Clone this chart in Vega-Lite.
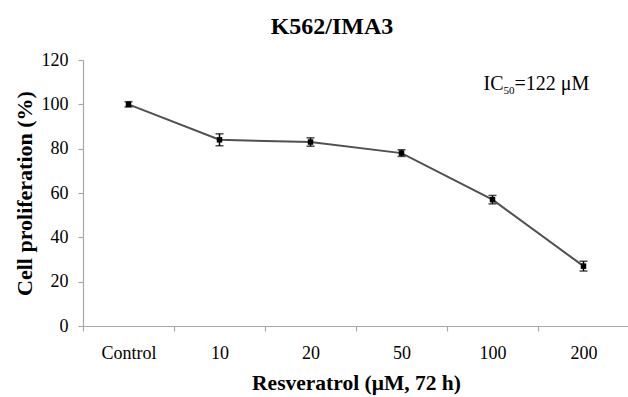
{
  "$schema": "https://vega.github.io/schema/vega-lite/v6.json",
  "autosize": "none",
  "width": 546,
  "height": 266,
  "padding": {"left": 83, "top": 60, "right": 0, "bottom": 71},
  "background": "white",
  "config": {
    "view": {"stroke": null},
    "font": "Liberation Serif",
    "axis": {
      "labelFont": "Liberation Serif",
      "titleFont": "Liberation Serif",
      "labelColor": "black",
      "titleColor": "black",
      "domainColor": "#a8a8a8",
      "tickColor": "#a8a8a8",
      "domainWidth": 1.2,
      "tickWidth": 1.2,
      "grid": false
    }
  },
  "title": {
    "text": "K562/IMA3",
    "font": "Liberation Serif",
    "fontSize": 24,
    "fontWeight": "bold",
    "color": "black",
    "baseline": "alphabetic",
    "offset": -7,
    "dx": -24
  },
  "data": {
    "values": [
      {"dose": "Control", "mean": 100, "err": 1.2},
      {"dose": "10", "mean": 84, "err": 2.7},
      {"dose": "20", "mean": 83, "err": 1.9},
      {"dose": "50", "mean": 78, "err": 1.5},
      {"dose": "100", "mean": 57, "err": 1.9},
      {"dose": "200", "mean": 27, "err": 2.2}
    ]
  },
  "encoding": {
    "x": {
      "field": "dose",
      "type": "nominal",
      "sort": null,
      "scale": {"paddingInner": 0, "paddingOuter": 0},
      "axis": {
        "title": "Resveratrol (μM, 72 h)",
        "titleFontSize": 21.5,
        "titleFontWeight": "bold",
        "titlePadding": 10,
        "labelFontSize": 18,
        "labelAngle": 0,
        "labelPadding": 13,
        "tickBand": "extent",
        "tickSize": 5
      }
    },
    "y": {
      "field": "mean",
      "type": "quantitative",
      "scale": {"domain": [0, 120], "nice": false},
      "axis": {
        "title": "Cell  proliferation  (%)",
        "titleFontSize": 22,
        "titleFontWeight": "bold",
        "titlePadding": 5,
        "labelFontSize": 18,
        "labelPadding": 10,
        "tickSize": 5,
        "values": [0, 20, 40, 60, 80, 100, 120]
      }
    }
  },
  "layer": [
    {
      "mark": {"type": "line", "color": "#505050", "strokeWidth": 2}
    },
    {
      "mark": {"type": "errorbar", "ticks": {"size": 8, "thickness": 1.5, "color": "black"}, "rule": {"color": "black", "strokeWidth": 1.5}},
      "encoding": {
        "y": {"field": "mean", "type": "quantitative", "title": "Cell  proliferation  (%)"},
        "yError": {"field": "err"}
      }
    },
    {
      "mark": {"type": "point", "shape": "square", "filled": true, "color": "black", "size": 30, "opacity": 1}
    },
    {
      "transform": [{"filter": "datum.dose == '100'"}],
      "mark": {"type": "text", "text": "IC", "align": "left", "baseline": "alphabetic", "fontSize": 20, "fontWeight": "normal", "dx": -9, "color": "black"},
      "encoding": {
        "y": {"datum": 106.5}
      }
    },
    {
      "transform": [{"filter": "datum.dose == '100'"}],
      "mark": {"type": "text", "text": "50", "align": "left", "baseline": "alphabetic", "fontSize": 11, "fontWeight": "normal", "dx": 11, "dy": 4, "color": "black"},
      "encoding": {
        "y": {"datum": 106.5}
      }
    },
    {
      "transform": [{"filter": "datum.dose == '100'"}],
      "mark": {"type": "text", "text": "=122 μM", "align": "left", "baseline": "alphabetic", "fontSize": 20, "fontWeight": "normal", "dx": 22, "color": "black"},
      "encoding": {
        "y": {"datum": 106.5}
      }
    }
  ]
}
